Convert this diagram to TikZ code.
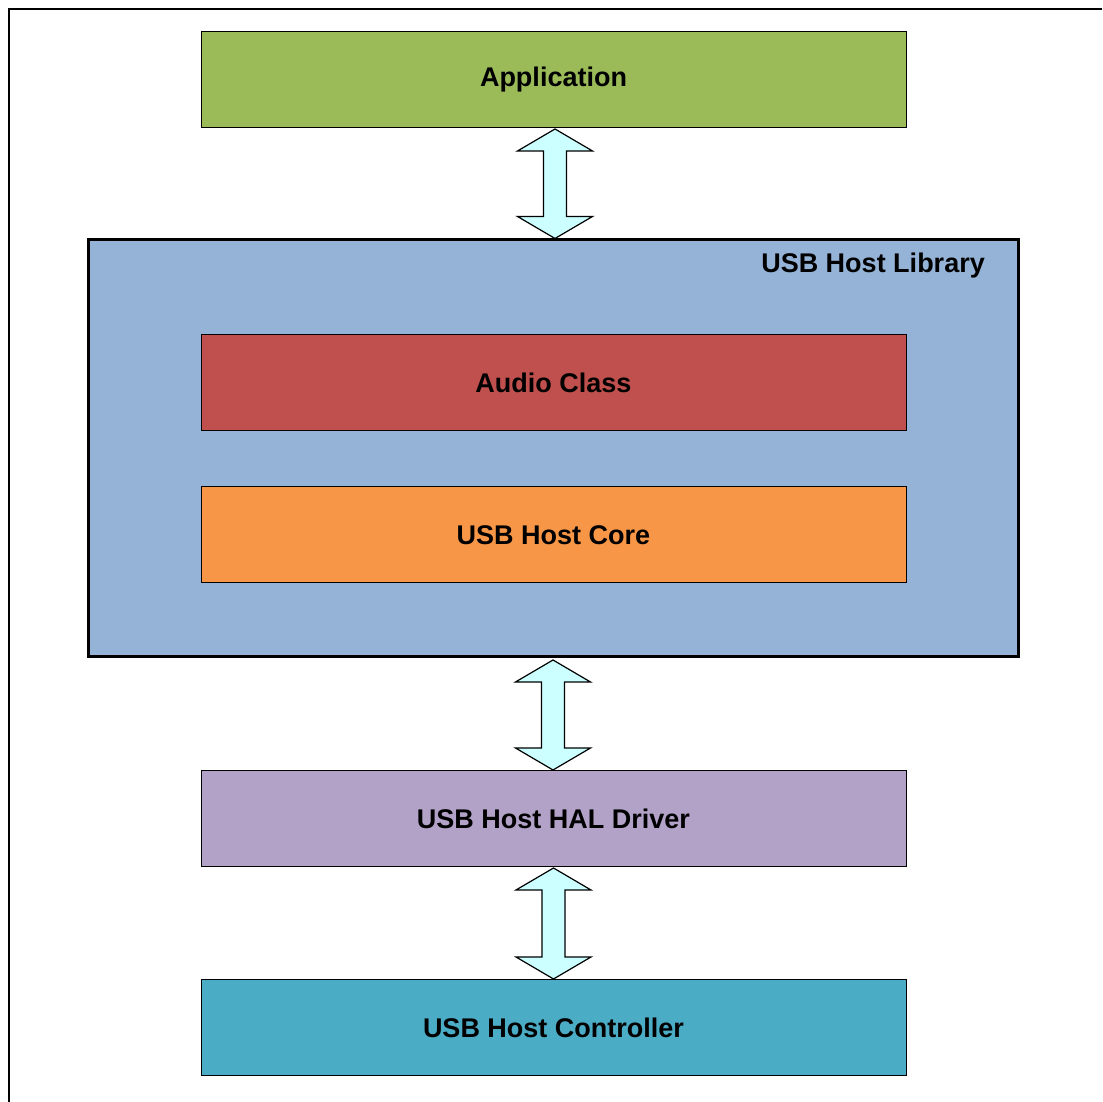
\documentclass[tikz,border=0pt]{standalone}
\usepackage{fontspec}
\setmainfont{Liberation Sans}
\usetikzlibrary{calc}
\definecolor{appc}{HTML}{9BBB59}
\definecolor{libc}{HTML}{95B3D7}
\definecolor{audc}{HTML}{C0504D}
\definecolor{corec}{HTML}{F79646}
\definecolor{halc}{HTML}{B2A2C7}
\definecolor{ctrlc}{HTML}{4BACC6}
\definecolor{arrc}{HTML}{CCFFFF}
\newcommand\dblarr[2]{%
  \draw[arr] (#1) -- ++(-37.5,-22) -- ++(26,0) -- ($(#2)+(-11.5,22)$) -- ++(-26,0) -- (#2)
    -- ++(37.5,22) -- ++(-26,0) -- ($(#1)+(11.5,-22)$) -- ++(26,0) -- cycle;}
\tikzset{
  layer/.style={draw=black, line width=1pt, minimum width=705pt, minimum height=96pt,
    inner sep=0pt, font=\fontsize{27}{32}\selectfont\bfseries},
  arr/.style={draw=black, line width=1.2pt, fill=arrc, line join=miter},
}
\begin{document}
\begin{tikzpicture}[x=1pt,y=1pt]
\useasboundingbox (0,0) rectangle (1102,1102);
\fill[white] (0,0) rectangle (1102,1102);
\coordinate (fa) at (9,0);
\coordinate (fb) at (9,1093);
\coordinate (fc) at (1102,1093);
\draw[line width=2pt] (fa) -- (fb) -- (fc);
\node[draw=black, line width=3pt, fill=libc, minimum width=930pt, minimum height=417pt, inner sep=0pt] (lib) at (553,653.5) {};
\node[anchor=east, font=\fontsize{27}{32}\selectfont\bfseries, inner sep=0pt] (libl) at (985,836.5) {USB Host Library};
\node[layer, fill=appc] (app) at (553.5,1022) {Application};
\node[layer, fill=audc] (aud) at (553.5,719.5) {Audio Class};
\node[layer, fill=corec] (core) at (553.5,567) {USB Host Core};
\node[layer, fill=halc] (hal) at (553.5,283.5) {USB Host HAL Driver};
\node[layer, fill=ctrlc] (ctrl) at (553.5,74.5) {USB Host Controller};
\coordinate (a1) at ($(app.south)+(1.5,-0.5)$);
\coordinate (b1) at ($(lib.north -| a1)+(0,0)$);
\dblarr{a1}{b1}
\coordinate (a2) at ($(lib.south)+(0,-1.5)$);
\coordinate (b2) at (hal.north -| a2);
\dblarr{a2}{b2}
\coordinate (a3) at ($(hal.south)+(0,-1)$);
\coordinate (b3) at (ctrl.north -| a3);
\dblarr{a3}{b3}
\end{tikzpicture}
\end{document}
